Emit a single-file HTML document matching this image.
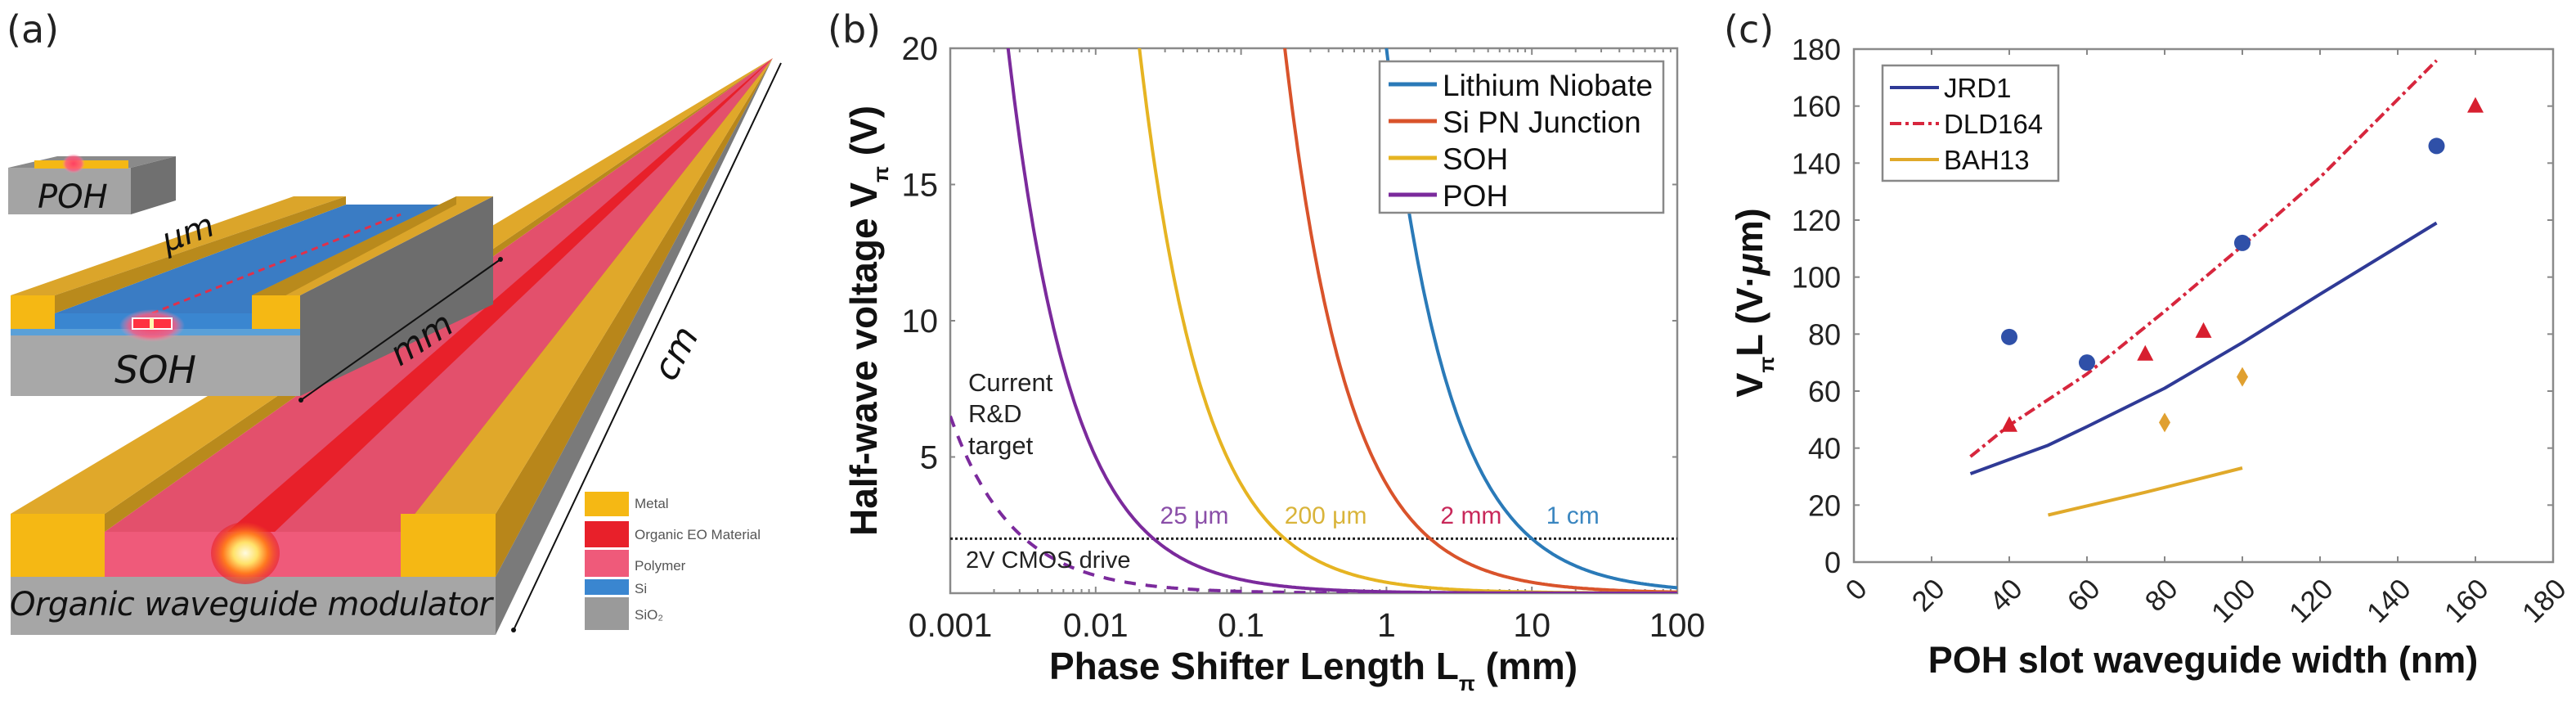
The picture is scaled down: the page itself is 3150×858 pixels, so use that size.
<!DOCTYPE html>
<html><head><meta charset="utf-8"><style>
html,body{margin:0;padding:0;background:#fff;}
svg{display:block;}
text{font-family:"Liberation Sans","DejaVu Sans",sans-serif;}
</style></head><body>
<svg id="fig" width="3150" height="858" viewBox="0 0 3150 858" xmlns="http://www.w3.org/2000/svg">
<defs>
<radialGradient id="spot" cx="50%" cy="50%" r="50%">
<stop offset="0%" stop-color="#fffbe0"/><stop offset="35%" stop-color="#ffe26a"/><stop offset="65%" stop-color="#ff7a20"/><stop offset="100%" stop-color="#e8202a" stop-opacity="0.6"/>
</radialGradient>
<radialGradient id="glow" cx="50%" cy="50%" r="50%">
<stop offset="0%" stop-color="#ff4060"/><stop offset="70%" stop-color="#ff5a80" stop-opacity="0.8"/><stop offset="100%" stop-color="#ff90b0" stop-opacity="0"/>
</radialGradient>
<clipPath id="clipB"><rect x="1162" y="59" width="889" height="666"/></clipPath>
<clipPath id="clipC"><rect x="2267" y="60" width="855" height="627"/></clipPath>
</defs>

<!-- Panel (a) -->
<g>
<text x="8" y="52" font-size="46" fill="#222" style="font-family:'DejaVu Sans',sans-serif">(a)</text>
<g>
<polygon points="606,628 606,705 945,71" fill="#b8861a"/>
<polygon points="606,705 606,776 945,71" fill="#7a7a7a"/>
<polygon points="490,628 606,628 945,71" fill="#e0a82a"/>
<polygon points="490,650 490,628 945,71" fill="#b98a1c"/>
<polygon points="128,650 490,650 945,71" fill="#e3506c"/>
<polygon points="278,650 336,650 945,71" fill="#e8202a"/>
<polygon points="128,628 128,650 945,71" fill="#b98a1c"/>
<polygon points="13,628 128,628 945,71" fill="#e0a82a"/>
<rect x="13" y="628" width="115" height="77" fill="#f5b814"/>
<rect x="128" y="650" width="362" height="55" fill="#ef5a7a"/>
<rect x="490" y="628" width="116" height="77" fill="#f5b814"/>
<rect x="13" y="705" width="593" height="71" fill="#a6a6a6"/>
<ellipse cx="300" cy="676" rx="42" ry="38" fill="url(#spot)"/>
<text x="12" y="752" font-size="40" font-style="italic" fill="#111" style="font-family:'DejaVu Sans',sans-serif" textLength="590">Organic waveguide modulator</text>
</g>
<g>
<polygon points="367,361 367,484 603,372 603,240" fill="#6d6d6d"/>
<polygon points="67,383 308,383 558,250 423,250" fill="#3a7cc4"/>
<line x1="186" y1="383" x2="490" y2="262" stroke="#e0304a" stroke-width="3" stroke-dasharray="8,6"/>
<polygon points="13,361 67,361 423,240 359,240" fill="#dba52a"/>
<polygon points="67,361 67,383 423,250 423,240" fill="#b98a1c"/>
<polygon points="308,361 367,361 603,240 558,240" fill="#dba52a"/>
<polygon points="308,361 308,383 558,250 558,240" fill="#b98a1c"/>
<rect x="13" y="361" width="54" height="41" fill="#f5b814"/>
<rect x="67" y="383" width="241" height="19" fill="#3a86d0"/>
<rect x="308" y="361" width="59" height="41" fill="#f5b814"/>
<rect x="13" y="402" width="354" height="8" fill="#5aa0d8"/>
<rect x="13" y="410" width="354" height="74" fill="#a8a8a8"/>
<ellipse cx="186" cy="398" rx="40" ry="20" fill="url(#glow)"/>
<rect x="162" y="389" width="48" height="13" fill="#ff3040" stroke="#fff" stroke-width="2"/>
<rect x="183" y="389" width="5" height="13" fill="#fff7b0"/>
<text x="140" y="468" font-size="46" font-style="italic" fill="#111" style="font-family:'DejaVu Sans',sans-serif">SOH</text>
</g>
<g>
<polygon points="160,205 160,262 215,245 215,191" fill="#707070"/>
<polygon points="10,205 160,205 215,191 70,191" fill="#8a8a8a"/>
<rect x="10" y="205" width="150" height="57" fill="#a4a4a4"/>
<rect x="42" y="196" width="115" height="10" fill="#f5b814"/>
<ellipse cx="90" cy="200" rx="14" ry="12" fill="url(#glow)"/>
<text x="46" y="254" font-size="40" font-style="italic" fill="#111" style="font-family:'DejaVu Sans',sans-serif">POH</text>
</g>
<g>
<line x1="368" y1="489" x2="612" y2="317" stroke="#111" stroke-width="2"/>
<circle cx="368" cy="489" r="3" fill="#111"/><circle cx="612" cy="317" r="3" fill="#111"/>
<text x="516" y="428" font-size="42" font-style="italic" fill="#111" text-anchor="middle" transform="rotate(-33 516 415)" style="font-family:'DejaVu Sans',sans-serif">mm</text>
<line x1="628" y1="770" x2="955" y2="77" stroke="#111" stroke-width="2"/>
<circle cx="628" cy="770" r="3" fill="#111"/>
<text x="827" y="446" font-size="44" font-style="italic" fill="#111" text-anchor="middle" transform="rotate(-62 827 432)" style="font-family:'DejaVu Sans',sans-serif">cm</text>
<text x="230" y="298" font-size="40" font-style="italic" fill="#111" text-anchor="middle" transform="rotate(-20 230 285)" style="font-family:'DejaVu Sans',sans-serif">μm</text>
</g>
<g font-size="17" fill="#555">
<rect x="715" y="601" width="54" height="30" fill="#f5b814"/><text x="776" y="621">Metal</text>
<rect x="715" y="637" width="54" height="32" fill="#e8202a"/><text x="776" y="659">Organic EO Material</text>
<rect x="715" y="672" width="54" height="33" fill="#ef5a7a"/><text x="776" y="697">Polymer</text>
<rect x="715" y="708" width="54" height="19" fill="#3a86d0"/><text x="776" y="725">Si</text>
<rect x="715" y="730" width="54" height="40" fill="#9a9a9a"/><text x="776" y="757">SiO₂</text>
</g>
</g>

<text x="1012" y="52" font-size="46" fill="#222" style="font-family:'DejaVu Sans',sans-serif">(b)</text>
<g id="panelB"></g>

<text x="2108" y="52" font-size="46" fill="#222" style="font-family:'DejaVu Sans',sans-serif">(c)</text>
<g id="panelC"></g>
</svg>

<script>
// ---------- Panel B data ----------
const bSeriesNames = ['Lithium Niobate', 'Si PN Junction', 'SOH', 'POH'];
const bVpiL = [20, 4, 0.4, 0.05];            // V·mm products
const bColors = ['#2a7ab8', '#d9532b', '#e6b422', '#7b2a9c'];
const bDashedVpiL = [0.0065];
const bXTicks = [0.001, 0.01, 0.1, 1, 10, 100];
const bXTickLabels = ['0.001', '0.01', '0.1', '1', '10', '100'];
const bYTicks = [5, 10, 15, 20];
const bLengthLabels = ['1 cm', '2 mm', '200 μm', '25 μm'];
const bLabelColors = ['#3a86c0', '#c8285a', '#d9b43a', '#8a4ea8'];
const bCmosVoltage = [2];

// ---------- Panel C data ----------
const cJRD1x = [30, 40, 50, 60, 80, 100, 120, 150];
const cJRD1y = [31, 36, 41, 47.5, 61, 77, 94, 119];
const cDLDx = [30, 40, 60, 80, 100, 120, 150];
const cDLDy = [37, 48, 66, 88, 111, 135, 176];
const cBAHx = [50, 75, 100];
const cBAHy = [16.5, 24.5, 33];
const cCircleX = [40, 60, 100, 150];
const cCircleY = [79, 70, 112, 146];
const cTriX = [40, 75, 90, 160];
const cTriY = [48, 73, 81, 160];
const cDiaX = [80, 100];
const cDiaY = [49, 65];
const cXTicks = [0, 20, 40, 60, 80, 100, 120, 140, 160, 180];
const cYTicks = [0, 20, 40, 60, 80, 100, 120, 140, 160, 180];
const cLegendNames = ['JRD1', 'DLD164', 'BAH13'];

const NS = 'http://www.w3.org/2000/svg';
function mk(parent, tag, attrs, txt) {
  const e = document.createElementNS(NS, tag);
  for (const k in attrs) e.setAttribute(k, attrs[k]);
  if (txt !== undefined) e.textContent = txt;
  parent.appendChild(e);
  return e;
}

(function () {
  const g = document.getElementById('panelB');
  const L = 1162, R = 2051, T = 59, B = 725;
  const xb = v => L + (Math.log10(v) + 3) * (R - L) / 5;
  const yb = v => B - v * (B - T) / 20;

  const frame = mk(g, 'rect', {x: L, y: T, width: R - L, height: B - T, fill: 'none', stroke: '#8a8a8a', 'stroke-width': 2.5});
  
  

  for (let d = -3; d < 2; d++) {
    for (let m = 1; m < 10; m++) {
      const x = xb(m * Math.pow(10, d));
      const len = m === 1 ? 8 : 5;
      mk(g, 'line', {x1: x, y1: B, x2: x, y2: B - len, stroke: '#888', 'stroke-width': 2});
      mk(g, 'line', {x1: x, y1: T, x2: x, y2: T + len, stroke: '#888', 'stroke-width': 2});
    }
  }
  bXTicks.forEach((t, i) => {
    const tx = mk(g, 'text', {x: xb(t), y: 778, 'font-size': 41, 'text-anchor': 'middle', fill: '#222'}, bXTickLabels[i]);
    
    
  });
  bYTicks.forEach(t => {
    mk(g, 'line', {x1: L, y1: yb(t), x2: L + 6, y2: yb(t), stroke: '#888', 'stroke-width': 2});
    mk(g, 'line', {x1: R, y1: yb(t), x2: R - 6, y2: yb(t), stroke: '#888', 'stroke-width': 2});
    const ty = mk(g, 'text', {x: 1147, y: yb(t) + 14, 'font-size': 40, 'text-anchor': 'end', fill: '#222'}, String(t));
    
    
  });

  const plot = mk(g, 'g', {'clip-path': 'url(#clipB)'});
  const cm = mk(plot, 'line', {x1: L, y1: yb(bCmosVoltage[0]), x2: R, y2: yb(bCmosVoltage[0]), stroke: '#222', 'stroke-width': 3, 'stroke-dasharray': '3,3'});
  
  

  function curve(vl, color, dash, name) {
    let d = '';
    for (let i = 0; i <= 500; i++) {
      const lg = -3 + 5 * i / 500;
      const Lm = Math.pow(10, lg);
      const V = Math.min(vl / Lm, 22);
      d += (i ? 'L' : 'M') + xb(Lm).toFixed(1) + ',' + yb(V).toFixed(1);
    }
    const p = mk(plot, 'path', {d: d, fill: 'none', stroke: color, 'stroke-width': 4});
    if (dash) p.setAttribute('stroke-dasharray', dash);
    
    
  }
  bDashedVpiL.forEach(v => curve(v, '#7b2a9c', '14,12', 'rnd-target-curve'));
  bVpiL.forEach((v, i) => curve(v, bColors[i], null, 'curve-' + bSeriesNames[i].toLowerCase().replace(/ /g, '-')));

  bVpiL.forEach((v, i) => {
    const cx = xb(v / bCmosVoltage[0]) + 50;
    const lt = mk(g, 'text', {x: cx, y: 640, 'font-size': 30, fill: bLabelColors[i], 'text-anchor': 'middle'}, bLengthLabels[i]);
    
    
  });

  const ann = [['Current', 478], ['R&D', 516], ['target', 555]];
  ann.forEach(a => {
    const t = mk(g, 'text', {x: 1184, y: a[1], 'font-size': 31, fill: '#222'}, a[0]);
    
    
  });
  const cmt = mk(g, 'text', {x: 1181, y: 694, 'font-size': 29, fill: '#222'}, '2V CMOS drive');
  
  

  const lg = mk(g, 'rect', {x: 1687, y: 75, width: 347, height: 185, fill: '#fff', stroke: '#888', 'stroke-width': 2.5});
  
  
  bSeriesNames.forEach((n, i) => {
    const y = 103 + i * 45;
    mk(g, 'line', {x1: 1698, y1: y, x2: 1757, y2: y, stroke: bColors[i], 'stroke-width': 5});
    const t = mk(g, 'text', {x: 1764, y: y + 14, 'font-size': 37, fill: '#111'}, n);
    
    
  });

  const xt = mk(g, 'text', {x: 1606, y: 830, 'font-size': 46, 'font-weight': 'bold', 'text-anchor': 'middle', fill: '#111'});
  
  
  xt.innerHTML = 'Phase Shifter Length L<tspan font-size="26" dy="14">π</tspan><tspan dy="-14"> (mm)</tspan>';
  const yt = mk(g, 'text', {x: 0, y: 0, 'font-size': 46, 'font-weight': 'bold', 'text-anchor': 'middle', fill: '#111', transform: 'translate(1072,392) rotate(-90)'});
  
  
  yt.innerHTML = 'Half-wave voltage V<tspan font-size="26" dy="14">π</tspan><tspan dy="-14"> (V)</tspan>';
})();

(function () {
  const g = document.getElementById('panelC');
  const L = 2267, R = 3122, T = 60, B = 687;
  const xc = v => L + v * (R - L) / 180;
  const yc = v => B - v * (B - T) / 180;

  const frame = mk(g, 'rect', {x: L, y: T, width: R - L, height: B - T, fill: 'none', stroke: '#8a8a8a', 'stroke-width': 2.5});
  
  

  cXTicks.forEach(t => {
    mk(g, 'line', {x1: xc(t), y1: B, x2: xc(t), y2: B - 7, stroke: '#888', 'stroke-width': 2});
    mk(g, 'line', {x1: xc(t), y1: T, x2: xc(t), y2: T + 7, stroke: '#888', 'stroke-width': 2});
    const tx = mk(g, 'text', {x: 0, y: 0, 'font-size': 35, 'text-anchor': 'end', fill: '#222', transform: 'translate(' + (xc(t) + 18) + ',722) rotate(-45)'}, String(t));
    
    
  });
  cYTicks.forEach(t => {
    mk(g, 'line', {x1: L, y1: yc(t), x2: L + 7, y2: yc(t), stroke: '#888', 'stroke-width': 2});
    mk(g, 'line', {x1: R, y1: yc(t), x2: R - 7, y2: yc(t), stroke: '#888', 'stroke-width': 2});
    const ty = mk(g, 'text', {x: 2251, y: yc(t) + 13, 'font-size': 36, 'text-anchor': 'end', fill: '#222'}, String(t));
    
    
  });

  const plot = mk(g, 'g', {'clip-path': 'url(#clipC)'});
  function line(xs, ys, color, dash, name) {
    const d = xs.map((x, i) => (i ? 'L' : 'M') + xc(x).toFixed(1) + ',' + yc(ys[i]).toFixed(1)).join('');
    const p = mk(plot, 'path', {d: d, fill: 'none', stroke: color, 'stroke-width': 4, 'stroke-linejoin': 'round'});
    if (dash) p.setAttribute('stroke-dasharray', dash);
    
    
  }
  line(cJRD1x, cJRD1y, '#2f3a96', null, 'jrd1-line');
  line(cDLDx, cDLDy, '#d7263d', '14,5,4,5', 'dld164-line');
  line(cBAHx, cBAHy, '#e0a92a', null, 'bah13-line');

  cCircleX.forEach((x, i) => {
    const c = mk(plot, 'circle', {cx: xc(x), cy: yc(cCircleY[i]), r: 10, fill: '#2f50a8'});
    
    
  });
  cTriX.forEach((x, i) => {
    const px = xc(x), py = yc(cTriY[i]);
    const tr = mk(plot, 'polygon', {points: (px - 10) + ',' + (py + 8) + ' ' + (px + 10) + ',' + (py + 8) + ' ' + px + ',' + (py - 11), fill: '#d71f2f'});
    
    
  });
  cDiaX.forEach((x, i) => {
    const px = xc(x), py = yc(cDiaY[i]);
    const dm = mk(plot, 'polygon', {points: px + ',' + (py - 12) + ' ' + (px + 7) + ',' + py + ' ' + px + ',' + (py + 12) + ' ' + (px - 7) + ',' + py, fill: '#e0a030'});
    
    
  });

  const lg = mk(g, 'rect', {x: 2302, y: 80, width: 215, height: 141, fill: '#fff', stroke: '#888', 'stroke-width': 2.5});
  
  
  const lcol = ['#2f3a96', '#d7263d', '#e0a92a'];
  const ldash = [null, '14,5,4,5', null];
  cLegendNames.forEach((n, i) => {
    const y = 107 + i * 44;
    const l = mk(g, 'line', {x1: 2311, y1: y, x2: 2371, y2: y, stroke: lcol[i], 'stroke-width': 4});
    if (ldash[i]) l.setAttribute('stroke-dasharray', ldash[i]);
    const t = mk(g, 'text', {x: 2377, y: y + 12, 'font-size': 33, fill: '#111'}, n);
    
    
  });

  const xt = mk(g, 'text', {x: 2694, y: 822, 'font-size': 45, 'font-weight': 'bold', 'text-anchor': 'middle', fill: '#111'}, 'POH slot waveguide width (nm)');
  
  
  const yt = mk(g, 'text', {x: 0, y: 0, 'font-size': 45, 'font-weight': 'bold', 'text-anchor': 'middle', fill: '#111', transform: 'translate(2155,370) rotate(-90)'});
  
  
  yt.innerHTML = 'V<tspan font-size="26" dy="14">π</tspan><tspan dy="-14">L (V·</tspan><tspan font-style="italic">μ</tspan>m)';
})();
</script>
</body></html>
